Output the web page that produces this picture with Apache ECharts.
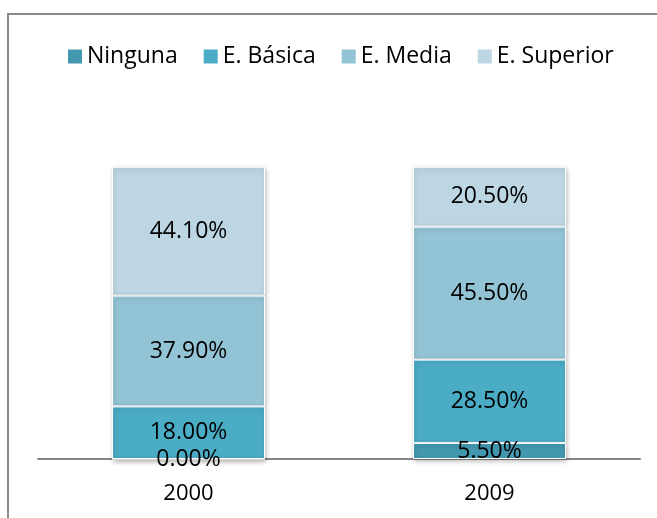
<!DOCTYPE html>
<html>
<head>
<meta charset="utf-8">
<script src="https://cdn.jsdelivr.net/npm/echarts@6/dist/echarts.min.js"></script>
<style>
  html, body { margin: 0; padding: 0; background: #fff; }
  #chart { width: 657px; height: 518px; }
</style>
</head>
<body>
<div id="chart"></div>
<script>
// datos del gráfico (porcentajes por nivel educativo)
var years = ['2000', '2009'];
var ninguna = [0.0, 5.5];
var basica = [18.0, 28.5];
var media = [37.9, 45.5];
var superior = [44.1, 20.5];

var names = ['Ninguna', 'E. Básica', 'E. Media', 'E. Superior'];
var colors = ['#4398AF', '#4BACC6', '#93C4D5', '#BCD7E3'];
var values = [ninguna, basica, media, superior];

var font = '"Open Sans", "Noto Sans", sans-serif';

var series = [];
for (var i = 0; i < values.length; i++) {
  series.push({
    name: names[i],
    type: 'bar',
    stack: 'total',
    barWidth: 153,
    z: 10 - i,
    data: values[i],
    itemStyle: {
      color: colors[i],
      borderColor: '#fff',
      borderWidth: 1,
      shadowBlur: 5,
      shadowOffsetX: 1,
      shadowOffsetY: 2,
      shadowColor: 'rgba(0,0,0,0.28)'
    },
    label: {
      show: true,
      position: 'inside',
      color: '#000',
      fontFamily: font,
      fontSize: 23,
      formatter: function (p) { return p.value.toFixed(2) + '%'; }
    }
  });
}

var option = {
  animation: false,
  color: colors,
  graphic: [{
    type: 'rect',
    shape: { x: 8, y: 14, width: 720, height: 600 },
    style: { fill: 'none', stroke: '#8a8a8a', lineWidth: 2 },
    z: 0
  }],
  legend: {
    left: 68,
    top: 45,
    padding: 0,
    icon: 'rect',
    itemWidth: 14,
    itemHeight: 14,
    itemGap: 26,
    itemStyle: { borderWidth: 0, shadowBlur: 0, shadowOffsetX: 0, shadowOffsetY: 0 },
    textStyle: { color: '#000', fontFamily: font, fontSize: 23 },
    data: names
  },
  grid: { left: 38, right: 17, top: 166.7, bottom: 59 },
  xAxis: {
    type: 'category',
    data: years,
    axisLine: { lineStyle: { color: '#868686', width: 2 } },
    axisTick: { show: false },
    axisLabel: { color: '#000', fontFamily: font, fontSize: 22, margin: 24 }
  },
  yAxis: {
    type: 'value',
    min: 0,
    max: 100,
    show: false,
    splitLine: { show: false }
  },
  series: series
};

var chart = echarts.init(document.getElementById('chart'));
chart.setOption(option);
</script>
</body>
</html>
